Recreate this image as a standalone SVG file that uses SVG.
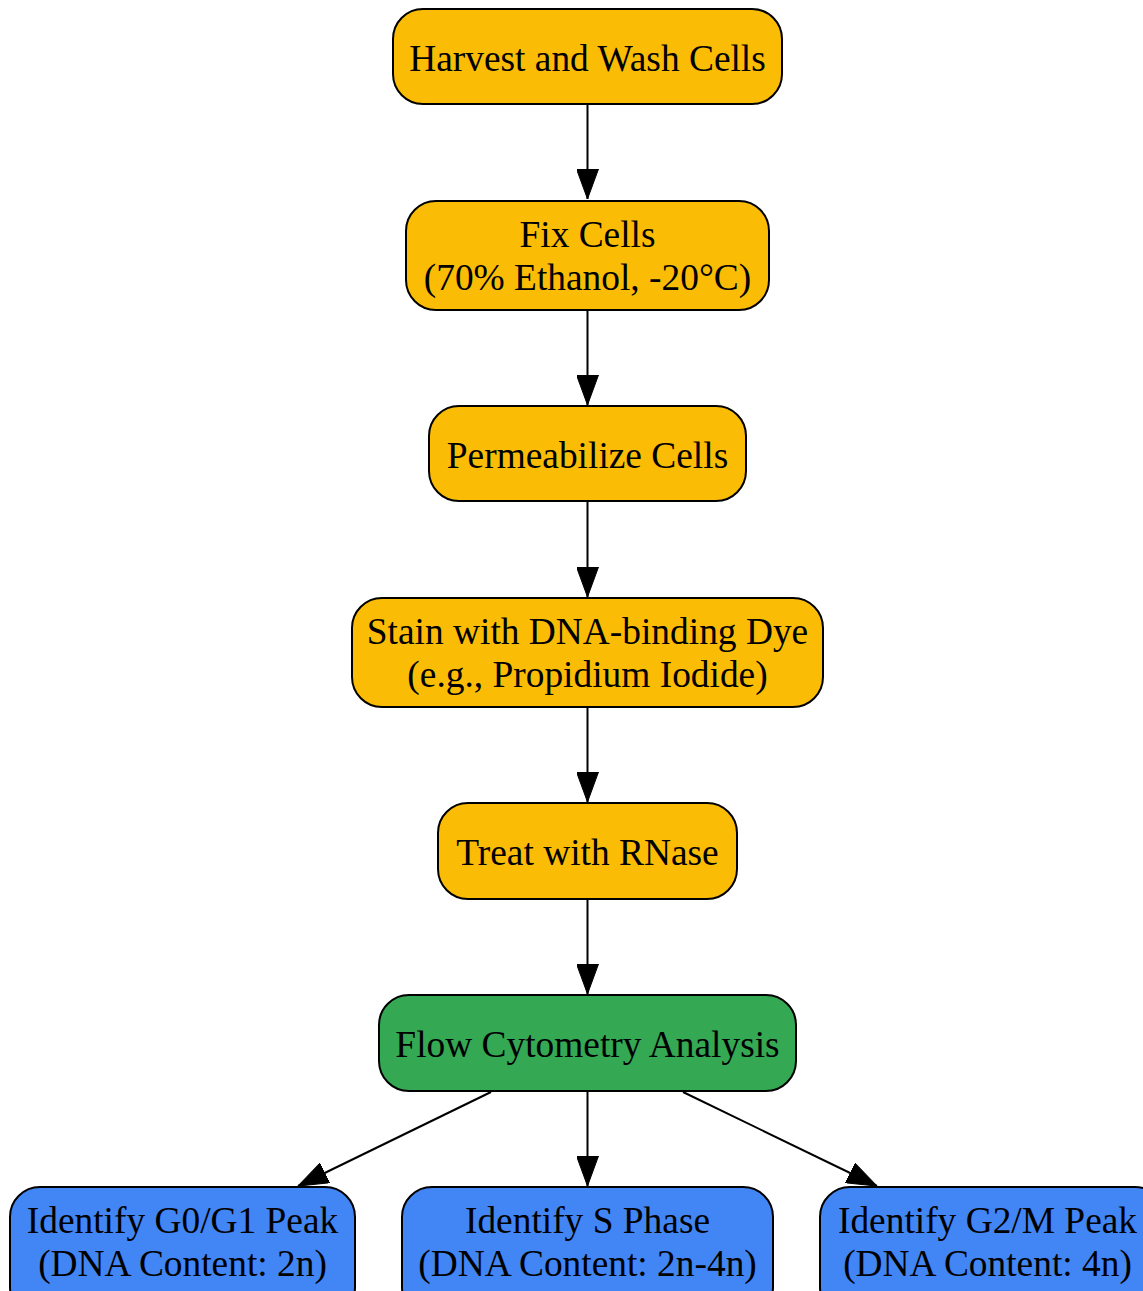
<svg xmlns="http://www.w3.org/2000/svg" width="1143" height="1291" viewBox="0 0 1143 1291">
<style>
.n{stroke:#000;stroke-width:2}
.o{fill:#FBBC05}
.g{fill:#34A853}
.b{fill:#4285F4}
text{font-family:"Liberation Serif","Times New Roman",serif;font-size:37.4px;fill:#000;text-anchor:middle}
.e{stroke:#000;stroke-width:2;fill:none}
</style>
<defs>
<marker id="ah" markerWidth="30" markerHeight="22" refX="30" refY="11" orient="auto" markerUnits="userSpaceOnUse">
<path d="M0,0 L30,11 L0,22 Z" fill="#000" stroke="#000" stroke-width="1"/>
</marker>
</defs>
<rect width="1143" height="1291" fill="#fff"/>
<g id="connectors">
<line class="e" x1="587.5" y1="104" x2="587.5" y2="199" marker-end="url(#ah)"/>
<line class="e" x1="587.5" y1="310" x2="587.5" y2="405" marker-end="url(#ah)"/>
<line class="e" x1="587.5" y1="501" x2="587.5" y2="597" marker-end="url(#ah)"/>
<line class="e" x1="587.5" y1="707" x2="587.5" y2="802" marker-end="url(#ah)"/>
<line class="e" x1="587.5" y1="899" x2="587.5" y2="994" marker-end="url(#ah)"/>
<line class="e" x1="587.5" y1="1091" x2="587.5" y2="1186" marker-end="url(#ah)"/>
<line class="e" x1="491" y1="1092" x2="298" y2="1186" marker-end="url(#ah)"/>
<line class="e" x1="683" y1="1092" x2="877" y2="1186" marker-end="url(#ah)"/>
</g>
<g id="harvest">
<rect class="n o" x="393" y="9" width="389" height="95" rx="30"/>
<text x="587.5" y="70.5">Harvest and Wash Cells</text>
</g>
<g id="fix">
<rect class="n o" x="406" y="201" width="363" height="109" rx="30"/>
<text x="587.5" y="247">Fix Cells</text>
<text x="587.5" y="290">(70% Ethanol, -20°C)</text>
</g>
<g id="perm">
<rect class="n o" x="429" y="406" width="317" height="95" rx="30"/>
<text x="587.5" y="467.5">Permeabilize Cells</text>
</g>
<g id="stain">
<rect class="n o" x="352" y="598" width="471" height="109" rx="30"/>
<text x="587.5" y="644">Stain with DNA-binding Dye</text>
<text x="587.5" y="687">(e.g., Propidium Iodide)</text>
</g>
<g id="rnase">
<rect class="n o" x="438" y="803" width="299" height="96" rx="30"/>
<text x="587.5" y="864.5">Treat with RNase</text>
</g>
<g id="flow">
<rect class="n g" x="379" y="995" width="417" height="96" rx="30"/>
<text x="587.5" y="1056.5">Flow Cytometry Analysis</text>
</g>
<g id="g0g1">
<rect class="n b" x="10" y="1187" width="345" height="130" rx="30"/>
<text x="182.5" y="1233">Identify G0/G1 Peak</text>
<text x="182.5" y="1276">(DNA Content: 2n)</text>
</g>
<g id="sphase">
<rect class="n b" x="402" y="1187" width="371" height="130" rx="30"/>
<text x="587.5" y="1233">Identify S Phase</text>
<text x="587.5" y="1276">(DNA Content: 2n-4n)</text>
</g>
<g id="g2m">
<rect class="n b" x="820" y="1187" width="345" height="130" rx="30"/>
<text x="987.5" y="1233">Identify G2/M Peak</text>
<text x="987.5" y="1276">(DNA Content: 4n)</text>
</g>
</svg>
